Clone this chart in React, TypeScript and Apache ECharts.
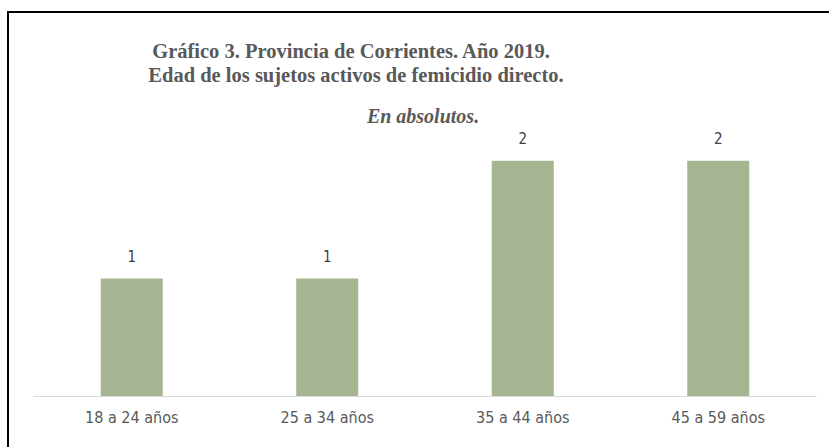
import React, { useEffect, useRef } from "react";
import * as echarts from "echarts";

const categories = ["18 a 24 años", "25 a 34 años", "35 a 44 años", "45 a 59 años"];
const values = [1, 1, 2, 2];
const titleLines = [
  "Gráfico 3. Provincia de Corrientes. Año 2019.",
  "Edad de los sujetos activos de femicidio directo.",
  "En absolutos.",
];

export default function App() {
  const ref = useRef<HTMLDivElement>(null);
  useEffect(() => {
    if (!ref.current) return;
    const chart = echarts.init(ref.current, undefined, { renderer: "svg" });
    const titleFont = "'Liberation Serif', 'DejaVu Serif', serif";
    const labelFont = "'Liberation Sans Narrow', 'DejaVu Sans Condensed', Roboto, sans-serif";
    chart.setOption({
      animation: false,
      backgroundColor: "#ffffff",
      title: [
        {
          text: titleLines[0],
          left: 346,
          top: 35,
          textAlign: "center",
          textStyle: { fontFamily: titleFont, fontWeight: "bold", fontSize: 20.5, color: "#595959" },
        },
        {
          text: titleLines[1],
          left: 351,
          top: 59,
          textAlign: "center",
          textStyle: { fontFamily: titleFont, fontWeight: "bold", fontSize: 20.5, color: "#595959" },
        },
        {
          text: titleLines[2],
          left: 418,
          top: 101,
          textAlign: "center",
          textStyle: { fontFamily: titleFont, fontWeight: "bold", fontStyle: "italic", fontSize: 20, color: "#595959" },
        },
      ],
      grid: { left: 34, right: 13, top: 102, bottom: 51, containLabel: false },
      xAxis: {
        type: "category",
        data: categories,
        axisLine: { lineStyle: { color: "#d9d9d9", width: 1 } },
        axisTick: { show: false },
        axisLabel: {
          color: "#595959",
          fontSize: 16,
          fontFamily: labelFont,
          margin: 13,
        },
      },
      yAxis: {
        type: "value",
        min: 0,
        max: 2.5,
        interval: 0.5,
        show: false,
        splitLine: { show: false },
      },
      series: [
        {
          type: "bar",
          data: values,
          barWidth: 62,
          itemStyle: { color: "#a5b592" },
          label: {
            show: true,
            position: "top",
            distance: 14,
            color: "#404040",
            fontSize: 15,
            fontFamily: labelFont,
          },
        },
      ],
      graphic: [
        { type: "line", shape: { x1: 8, y1: 12, x2: 829, y2: 12 }, style: { stroke: "#000", lineWidth: 2 } },
        { type: "line", shape: { x1: 8, y1: 11, x2: 8, y2: 447 }, style: { stroke: "#000", lineWidth: 2 } },
      ],
    });
    return () => chart.dispose();
  }, []);
  return <div ref={ref} style={{ position: "fixed", left: 0, top: 0, width: 829, height: 447 }} />;
}
